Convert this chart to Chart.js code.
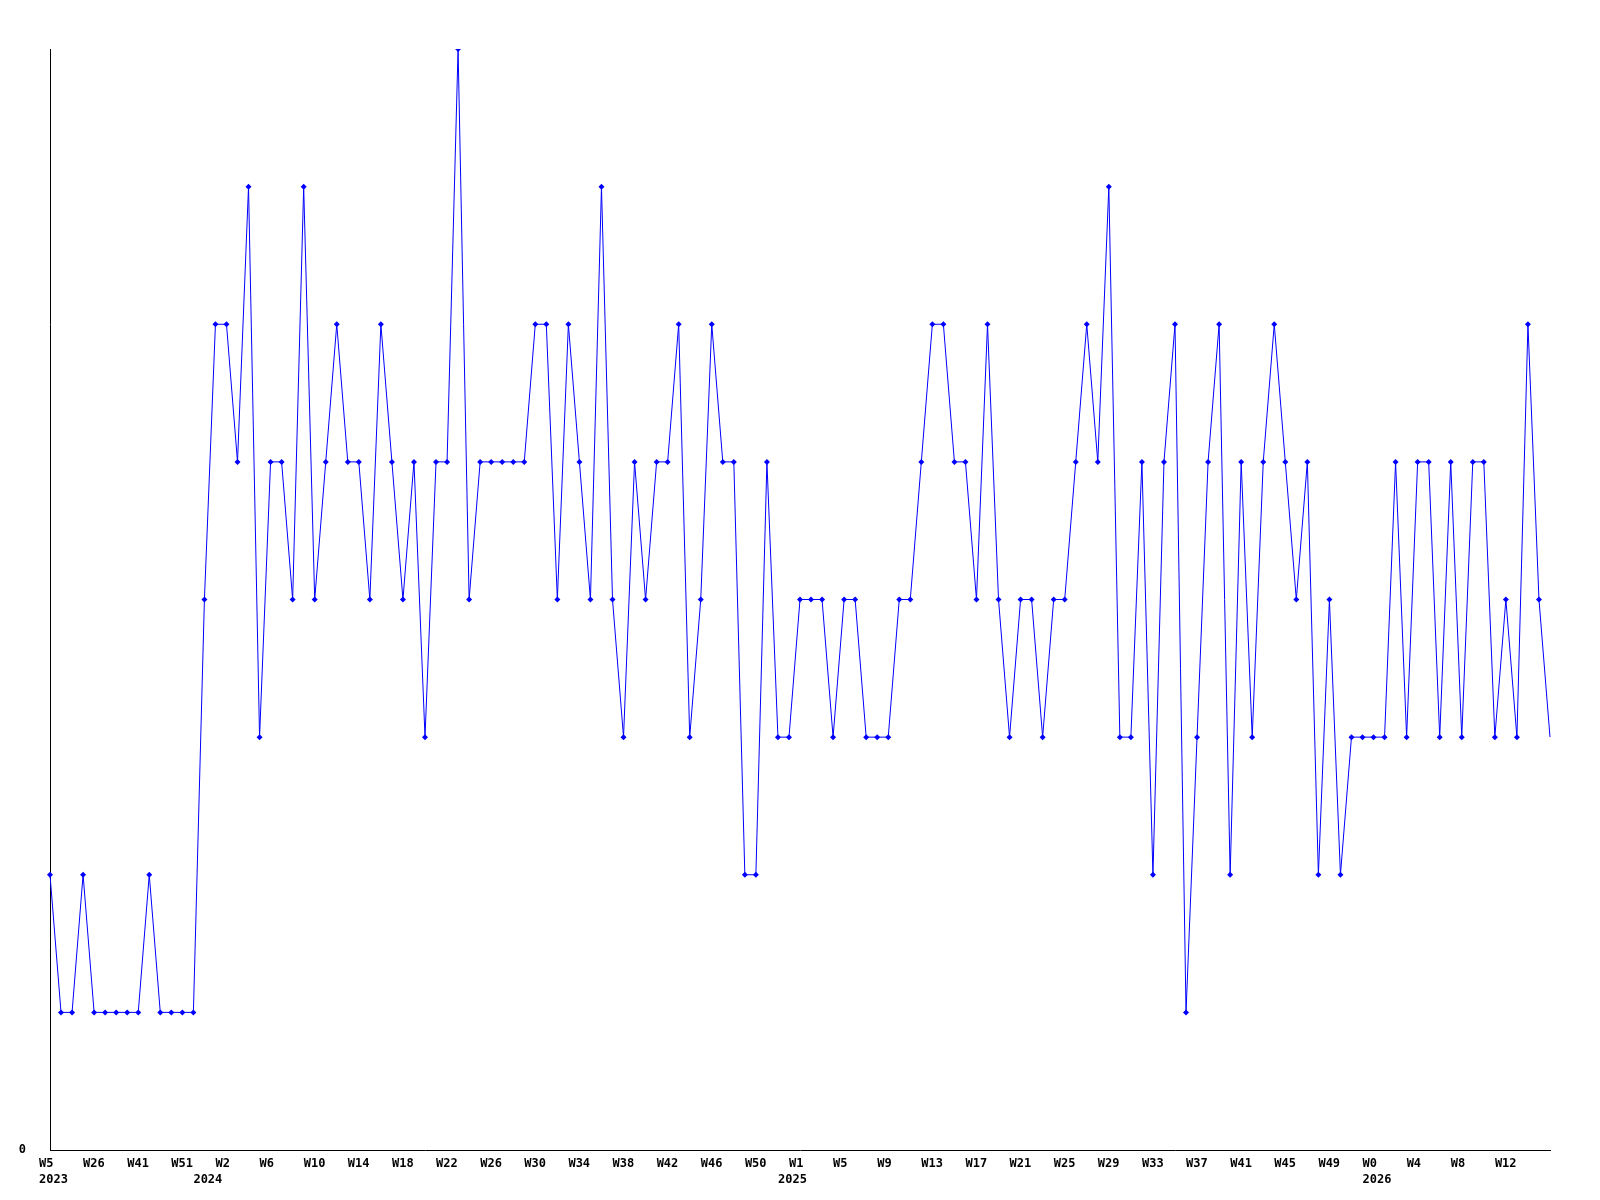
<!DOCTYPE html>
<html>
<head>
<meta charset="utf-8">
<script src="https://cdn.jsdelivr.net/npm/chart.js@4/dist/chart.umd.min.js"></script>
<style>
  html, body { margin: 0; padding: 0; background: #fff; }
  #wrap { width: 1600px; height: 1200px; }
</style>
</head>
<body>
<div id="wrap"><canvas id="chart" width="1600" height="1200"></canvas></div>
<script>
// week numbers per year (one entry per point)
var weeks2023 = [5, 9, 12, 16, 26, 29, 33, 37, 41, 44, 47, 49, 51, 52];
var weeks2024 = [0, 1, 2, 3, 4, 5, 6, 7, 8, 9, 10, 11, 12, 13, 14, 15, 16, 17, 18, 19, 20, 21, 22, 23, 24, 25, 26,
  27, 28, 29, 30, 31, 32, 33, 34, 35, 36, 37, 38, 39, 40, 41, 42, 43, 44, 45, 46, 47, 48, 49, 50, 51, 52];
var weeks2025 = [0, 1, 2, 3, 4, 5, 6, 7, 8, 9, 10, 11, 12, 13, 14, 15, 16, 17, 18, 19, 20, 21, 22, 23, 24, 25, 26,
  27, 28, 29, 30, 31, 32, 33, 34, 35, 36, 37, 38, 39, 40, 41, 42, 43, 44, 45, 46, 47, 48, 49, 50, 51, 52];
var weeks2026 = [0, 1, 2, 3, 4, 5, 6, 7, 8, 9, 10, 11, 12, 13, 14, 15, 16];
var years = ["2023", "2024", "2025", "2026"];

var values = [
  2, 1, 1, 2, 1, 1, 1, 1, 1, 2, 1, 1, 1, 1,
  4, 6, 6, 5, 7, 3, 5, 5, 4, 7, 4, 5, 6, 5,
  5, 4, 6, 5, 4, 5, 3, 5, 5, 8, 4, 5, 5, 5,
  5, 5, 6, 6, 4, 6, 5, 4, 7, 4, 3, 5, 4, 5,
  5, 6, 3, 4, 6, 5, 5, 2, 2, 5, 3, 3, 4, 4,
  4, 3, 4, 4, 3, 3, 3, 4, 4, 5, 6, 6, 5, 5,
  4, 6, 4, 3, 4, 4, 3, 4, 4, 5, 6, 5, 7, 3,
  3, 5, 2, 5, 6, 1, 3, 5, 6, 2, 5, 3, 5, 6,
  5, 4, 5, 2, 4, 2, 3, 3, 3, 3, 5, 3, 5, 5,
  3, 5, 3, 5, 5, 3, 4, 3, 6, 4, 3
];

var yTickLabels = ["0"];
var labelEvery = 4;

// build category list and remember where each year starts
var labels = [];
var yearStart = {};
[weeks2023, weeks2024, weeks2025, weeks2026].forEach(function (ws, k) {
  yearStart[labels.length] = years[k];
  ws.forEach(function (w) {
    labels.push("W" + w);
  });
});
var lastIndex = labels.length - 1;

var font = { family: "'DejaVu Sans Mono', monospace", size: 12, weight: "bold", lineHeight: 1.34 };

var ctx = document.getElementById("chart").getContext("2d");
var lineChart = new Chart(ctx, {
  type: "line",
  data: {
    labels: labels,
    datasets: [
      {
        data: values,
        borderColor: "#0000ff",
        backgroundColor: "#0000ff",
        borderWidth: 1,
        tension: 0,
        pointStyle: "rectRot",
        // the last (running) week has no marker
        pointRadius: function (c) {
          return c.dataIndex === lastIndex ? 0 : 3;
        },
        pointBorderWidth: 0,
        fill: false,
      },
    ],
  },
  options: {
    responsive: false,
    animation: false,
    events: [],
    layout: {
      padding: { left: 0, right: 50, top: 49, bottom: 0 },
    },
    plugins: {
      legend: { display: false },
      tooltip: { enabled: false },
    },
    scales: {
      x: {
        offset: false,
        grid: { display: false, drawTicks: false },
        border: { display: true, color: "#000", width: 1 },
        afterFit: function (s) { s.height = 50; },
        ticks: {
          autoSkip: false,
          maxRotation: 0,
          minRotation: 0,
          align: "start",
          labelOffset: -11,
          padding: 6,
          color: "#000",
          font: font,
          callback: function (v, i) {
            var lines = [];
            var yr = yearStart[i];
            if (i % labelEvery === 0 && i !== lastIndex) lines.push(labels[i]);
            else if (yr) lines.push("");
            if (yr) lines.push(yr);
            return lines.length ? lines : "";
          },
        },
      },
      y: {
        min: 0,
        max: 8,
        grid: { display: false, drawTicks: false },
        border: { display: true, color: "#000", width: 1 },
        afterFit: function (s) { s.width = 50; },
        ticks: {
          stepSize: 8,
          padding: 24,
          color: "#000",
          font: font,
          callback: function (v, i) {
            return i < yTickLabels.length ? yTickLabels[i] : "";
          },
        },
      },
    },
  },
});
</script>
</body>
</html>
